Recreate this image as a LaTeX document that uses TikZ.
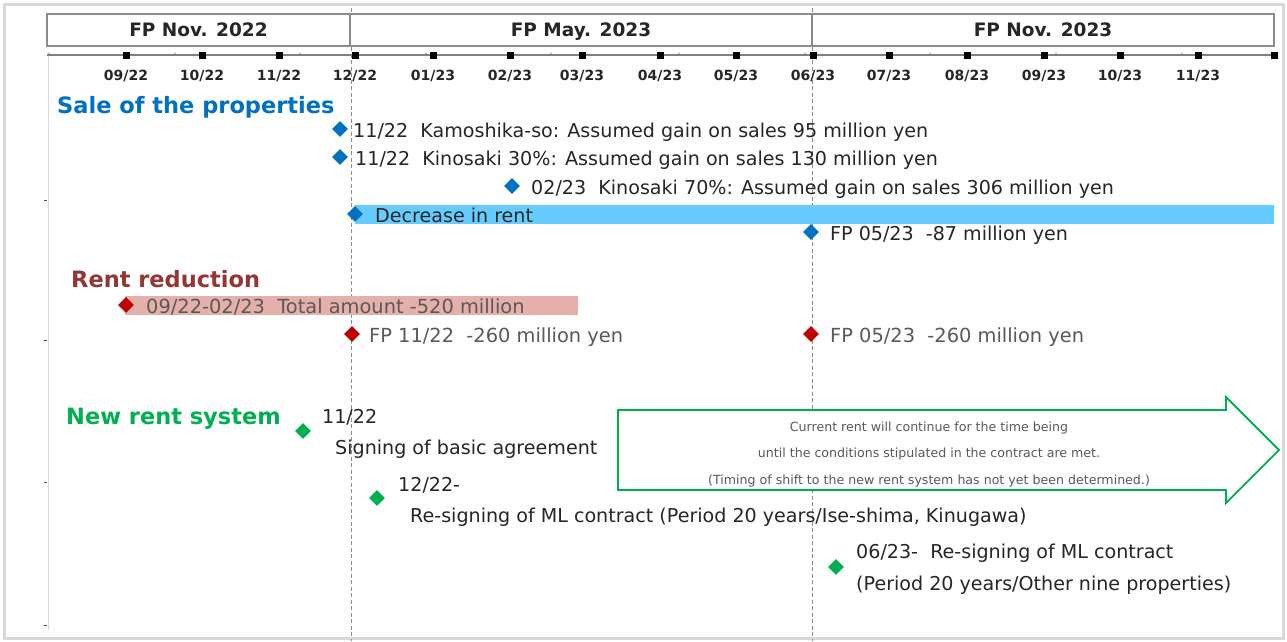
\documentclass[tikz,border=0pt]{standalone}
\usepackage{fontspec}
\setmainfont{DejaVu Sans}
\usetikzlibrary{shapes.geometric}
\definecolor{sblue}{HTML}{0070C0}
\definecolor{lblue}{HTML}{66CCFF}
\definecolor{dred}{HTML}{C00000}
\definecolor{pinkbar}{HTML}{E6B0AA}
\definecolor{rtitle}{HTML}{943634}
\definecolor{sgreen}{HTML}{00B050}
\definecolor{txtdark}{HTML}{262626}
\definecolor{txtgray}{HTML}{595959}
\definecolor{framegray}{HTML}{D9D9D9}
\begin{document}
\begin{tikzpicture}[x=1pt,y=-1pt,
  frame/.style={draw=framegray,line width=3pt},
  vdash/.style={draw=black!45,line width=0.9pt,dash pattern=on 4pt off 2.5pt},
  hdr/.style={draw=black!45,line width=1.6pt,fill=white,minimum height=32pt,inner sep=0pt,text height=13.5pt,text depth=0pt,font=\bfseries\fontsize{18.5}{22}\selectfont,text=txtdark},
  axisln/.style={draw=black!50,line width=1.8pt},
  mk/.style={fill=black,minimum size=7pt,inner sep=0pt,draw=none,rectangle},
  mlab/.style={font=\bfseries\fontsize{14}{17}\selectfont,text=txtdark,inner sep=0pt,text height=10.2pt,text depth=0pt},
  dia/.style={diamond,minimum size=16pt,inner sep=0pt,draw=none},
  ttl/.style={anchor=west,inner sep=0pt,text height=16.4pt,text depth=0pt,font=\bfseries\fontsize{22.5}{27}\selectfont},
  txt/.style={anchor=west,inner sep=0pt,text height=13.9pt,text depth=0pt,font=\fontsize{19.1}{22}\selectfont,text=txtdark},
  gtxt/.style={txt,text=txtgray,font=\fontsize{19.4}{22}\selectfont},
  arrtxt/.style={align=center,inner sep=0pt,font=\fontsize{12.6}{26.5}\selectfont,text=txtgray}
]
\useasboundingbox (0,0) rectangle (1287,641);
\fill[white] (0,0) rectangle (1287,641);
\draw[frame] (4,4) rectangle (1283,638);

% left light axis
\coordinate (lt) at (48,55);
\coordinate (lb) at (48,630);
\draw[framegray,line width=0.6pt] (lt) -- (lb);
\foreach \yy in {200,340,482,625} \draw[black!70,line width=0.6pt] (44,\yy) -- (47,\yy);

% dashed period separators
\coordinate (d1t) at (351,8);
\coordinate (d1b) at (351,641);
\coordinate (d2t) at (812,8);
\coordinate (d2b) at (812,641);
\draw[vdash] (d1t) -- (d1b);
\draw[vdash] (d2t) -- (d2b);

% headers
\node[hdr,minimum width=303pt] (h1) at (198.5,30) {FP Nov. 2022};
\node[hdr,minimum width=462pt] (h2) at (581,30) {FP May. 2023};
\node[hdr,minimum width=462pt] (h3) at (1043,30) {FP Nov. 2023};

% axis
\coordinate (axL) at (47,55);
\coordinate (axR) at (1277,55);
\draw[axisln] (axL) -- (axR);
\foreach \xx in {49,175,300,426,551,679,805,930,1056,1182}
  \fill[black!35] (\xx,53.2) circle (0.9pt);
\foreach \xx/\lab [count=\i] in {126/09\slash 22,202/10\slash 22,279/11\slash 22,355/12\slash 22,433/01\slash 23,510/02\slash 23,582/03\slash 23,660/04\slash 23,736/05\slash 23,813/06\slash 23,889/07\slash 23,967/08\slash 23,1044/09\slash 23,1120/10\slash 23,1198/11\slash 23}{
  \node[mk] (m\i) at (\xx,55) {};
  \node[mlab] (ml\i) at (\xx,75) {\lab};
}
\node[mk] (mend) at (1274,55) {};

% Sale of the properties
\node[ttl,text=sblue] (t1) at (57,105) {Sale of the properties};
\node[dia,fill=sblue] (s1) at (340,129) {};
\node[txt] (s1t) at (353,131) {11/22\ \ Kamoshika-so: Assumed gain on sales 95 million yen};
\node[dia,fill=sblue] (s2) at (340,157) {};
\node[txt] (s2t) at (355,159) {11/22\ \ Kinosaki 30\%: Assumed gain on sales 130 million yen};
\node[dia,fill=sblue] (s3) at (512,186) {};
\node[txt] (s3t) at (531,188) {02/23\ \ Kinosaki 70\%: Assumed gain on sales 306 million yen};
\fill[lblue] (355,205) rectangle (1274,224);
\node[dia,fill=sblue] (s4) at (355,214) {};
\node[txt] (s4t) at (375,216) {Decrease in rent};
\node[dia,fill=sblue] (s5) at (811,232) {};
\node[txt] (s5t) at (830,234) {FP 05/23\ \ -87 million yen};

% Rent reduction
\node[ttl,text=rtitle] (t2) at (71,279) {Rent reduction};
\fill[pinkbar] (125,296) rectangle (578,315);
\node[dia,fill=dred] (r1) at (126,305) {};
\node[gtxt] (r1t) at (146,307) {09/22-02/23\ \ Total amount -520 million};
\node[dia,fill=dred] (r2) at (352,334) {};
\node[gtxt] (r2t) at (369,336) {FP 11/22\ \ -260 million yen};
\node[dia,fill=dred] (r3) at (811,334) {};
\node[gtxt] (r3t) at (830,336) {FP 05/23\ \ -260 million yen};

% New rent system
\node[ttl,text=sgreen] (t3) at (66,416) {New rent system};
\node[dia,fill=sgreen] (g1) at (303,431) {};
\node[txt] (g1a) at (322,417) {11/22};
\node[txt] (g1b) at (335,448) {Signing of basic agreement};
\node[dia,fill=sgreen] (g2) at (377,498) {};
\node[txt] (g2a) at (398,485) {12/22-};
\node[txt] (g2b) at (410,516) {Re-signing of ML contract (Period 20 years/Ise-shima, Kinugawa)};
\node[dia,fill=sgreen] (g3) at (836,567) {};
\node[txt] (g3a) at (856,552) {06/23-\ \ Re-signing of ML contract};
\node[txt] (g3b) at (856,584) {(Period 20 years/Other nine properties)};

% big arrow
\draw[sgreen,line width=1.8pt,fill=white,line join=miter]
  (618,410) -- (1226,410) -- (1226,397) -- (1279,450) -- (1226,503) -- (1226,490) -- (618,490) -- cycle;
\node[arrtxt] (at) at (929,454.5) {Current rent will continue for the time being\\until the conditions stipulated in the contract are met.\\(Timing of shift to the new rent system has not yet been determined.)};
\end{tikzpicture}
\end{document}
